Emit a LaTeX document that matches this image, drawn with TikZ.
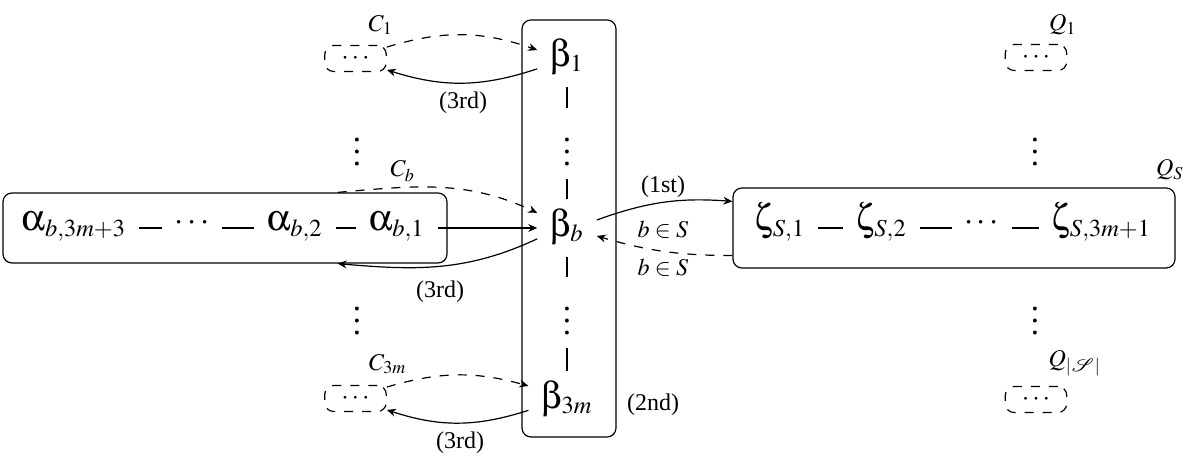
\documentclass[tikz,border=0pt]{standalone}
\usepackage{mathptmx}
\usepackage{mathrsfs}
\usepackage[Symbol]{upgreek}
\usepackage[no-math]{fontspec}
\setmainfont{Liberation Serif}
\usetikzlibrary{arrows.meta,calc}
\newcommand{\gk}[1]{{\fontsize{12.5}{14}\selectfont$#1$}}
\begin{document}
\begin{tikzpicture}[x=0.3333pt,y=0.3333pt,
  lbl/.style={inner sep=0pt,font=\fontsize{8}{9.6}\selectfont},
  chainnode/.style={font=\fontsize{11}{13}\selectfont,inner xsep=4pt,inner ysep=2pt,text height=8pt,text depth=6pt},
  bnode/.style={font=\fontsize{11}{13}\selectfont,inner xsep=4pt,inner ysep=3.67pt,text height=8.5pt,text depth=3pt},
  vnode/.style={font=\fontsize{11}{13}\selectfont,inner sep=4pt},
  frame/.style={draw,rounded corners=3pt,inner sep=0pt},
  dframe/.style={draw,dashed,rounded corners=3pt,inner sep=0pt,minimum width=20.5pt,minimum height=8.7pt,font=\fontsize{9}{10}\selectfont},
  arr/.style={-{Stealth[length=3pt,width=2.6pt]}}
]
\useasboundingbox (0,0) rectangle (1195,465);
% frames
\node[frame,minimum width=148pt,minimum height=23.33pt] (L) at (225,237) {};
\node[frame,minimum width=31.33pt,minimum height=139pt] (M) at (569,236.5) {};
\node[frame,minimum width=147.33pt,minimum height=26.67pt] (R) at (954,237) {};
% dashed small boxes
\node[dframe] (c1) at (355.5,406.5) {$\cdots$};
\node[dframe] (c3) at (355.5,66.5) {$\cdots$};
\node[dframe] (q1) at (1036,407.5) {$\cdots$};
\node[dframe] (q3) at (1036,65.5) {$\cdots$};
% alpha chain
\node[chainnode] (a3) at (74,237) {\gk{\upalpha}$_{b,3m+3}$};
\node[chainnode] (ad) at (192,237) {$\cdots$};
\node[chainnode] (a2) at (295,237) {\gk{\upalpha}$_{b,2}$};
\node[chainnode] (a1) at (397,237) {\gk{\upalpha}$_{b,1}$};
\draw (a3) -- (ad);
\draw (ad) -- (a2);
\draw (a2) -- (a1);
% zeta chain
\node[chainnode] (z1) at (780,237) {\gk{\upzeta}$_{S,1}$};
\node[chainnode] (z2) at (881.5,237) {\gk{\upzeta}$_{S,2}$};
\node[chainnode] (zd) at (981.5,237) {$\cdots$};
\node[chainnode] (z3) at (1101.5,237) {\gk{\upzeta}$_{S,3m+1}$};
\draw (z1) -- (z2);
\draw (z2) -- (zd);
\draw (zd) -- (z3);
% beta column
\node[bnode] (b1) at (567,407) {\gk{\upbeta}$_1$};
\node[vnode] (v1) at (567,321.5) {$\vdots$};
\node[bnode] (bb) at (567,237) {\gk{\upbeta}$_b$};
\node[vnode] (v2) at (567,152.5) {$\vdots$};
\node[bnode] (b3) at (567,65) {\gk{\upbeta}$_{3m}$};
\draw (b1) -- (v1);
\draw (v1) -- (bb);
\draw (bb) -- (v2);
\draw (v2) -- (b3);
% side vdots
\node[vnode] (lv1) at (357,321.5) {$\vdots$};
\node[vnode] (lv2) at (357,152.5) {$\vdots$};
\node[vnode] (rv1) at (1035,321.5) {$\vdots$};
\node[vnode] (rv2) at (1035,152.5) {$\vdots$};
% labels
\node[lbl] (lc1) at (381,440) {$C_1$};
\node[lbl] (lcb) at (403,294) {$C_b$};
\node[lbl] (lc3) at (388,101) {$C_{3m}$};
\node[lbl] (lq1) at (1063,440) {$Q_1$};
\node[lbl] (lqs) at (1170,295) {$Q_S$};
\node[lbl] (lq3) at (1075,102) {$Q_{|\mathscr{S}|}$};
\node[lbl] (t1) at (463,362) {(3rd)};
\node[lbl] (t2) at (440,173) {(3rd)};
\node[lbl] (t3) at (460,22) {(3rd)};
\node[lbl] (first) at (663,278) {(1st)};
\node[lbl] (bs1) at (663,235) {$b\in S$};
\node[lbl] (bs2) at (663,197) {$b\in S$};
\node[lbl] (second) at (653,60) {(2nd)};
% arrows top
\draw[arr,dashed] (c1.20) to[bend left=18] (b1.165);
\draw[arr] (b1.200) to[bend left=18] (c1.-20);
% arrows bottom
\draw[arr,dashed] (c3.20) to[bend left=16] (b3.160);
\draw[arr] (b3.195) to[bend left=18] (c3.-20);
% arrows middle
\draw[arr,dashed] ($(L.north east)+(-110,0)$) to[out=5,in=155] (bb.153);
\draw[arr] (a1.east) -- (bb.west);
\draw[arr] (bb.200) to[out=205,in=-5] ($(L.south east)+(-110,0)$);
\draw[arr] (bb.15) to[bend left=12] ($(R.north west)+(0,-14)$);
\draw[arr,dashed] ($(R.south west)+(0,13)$) to[bend left=8] (bb.-15);
\end{tikzpicture}
\end{document}
